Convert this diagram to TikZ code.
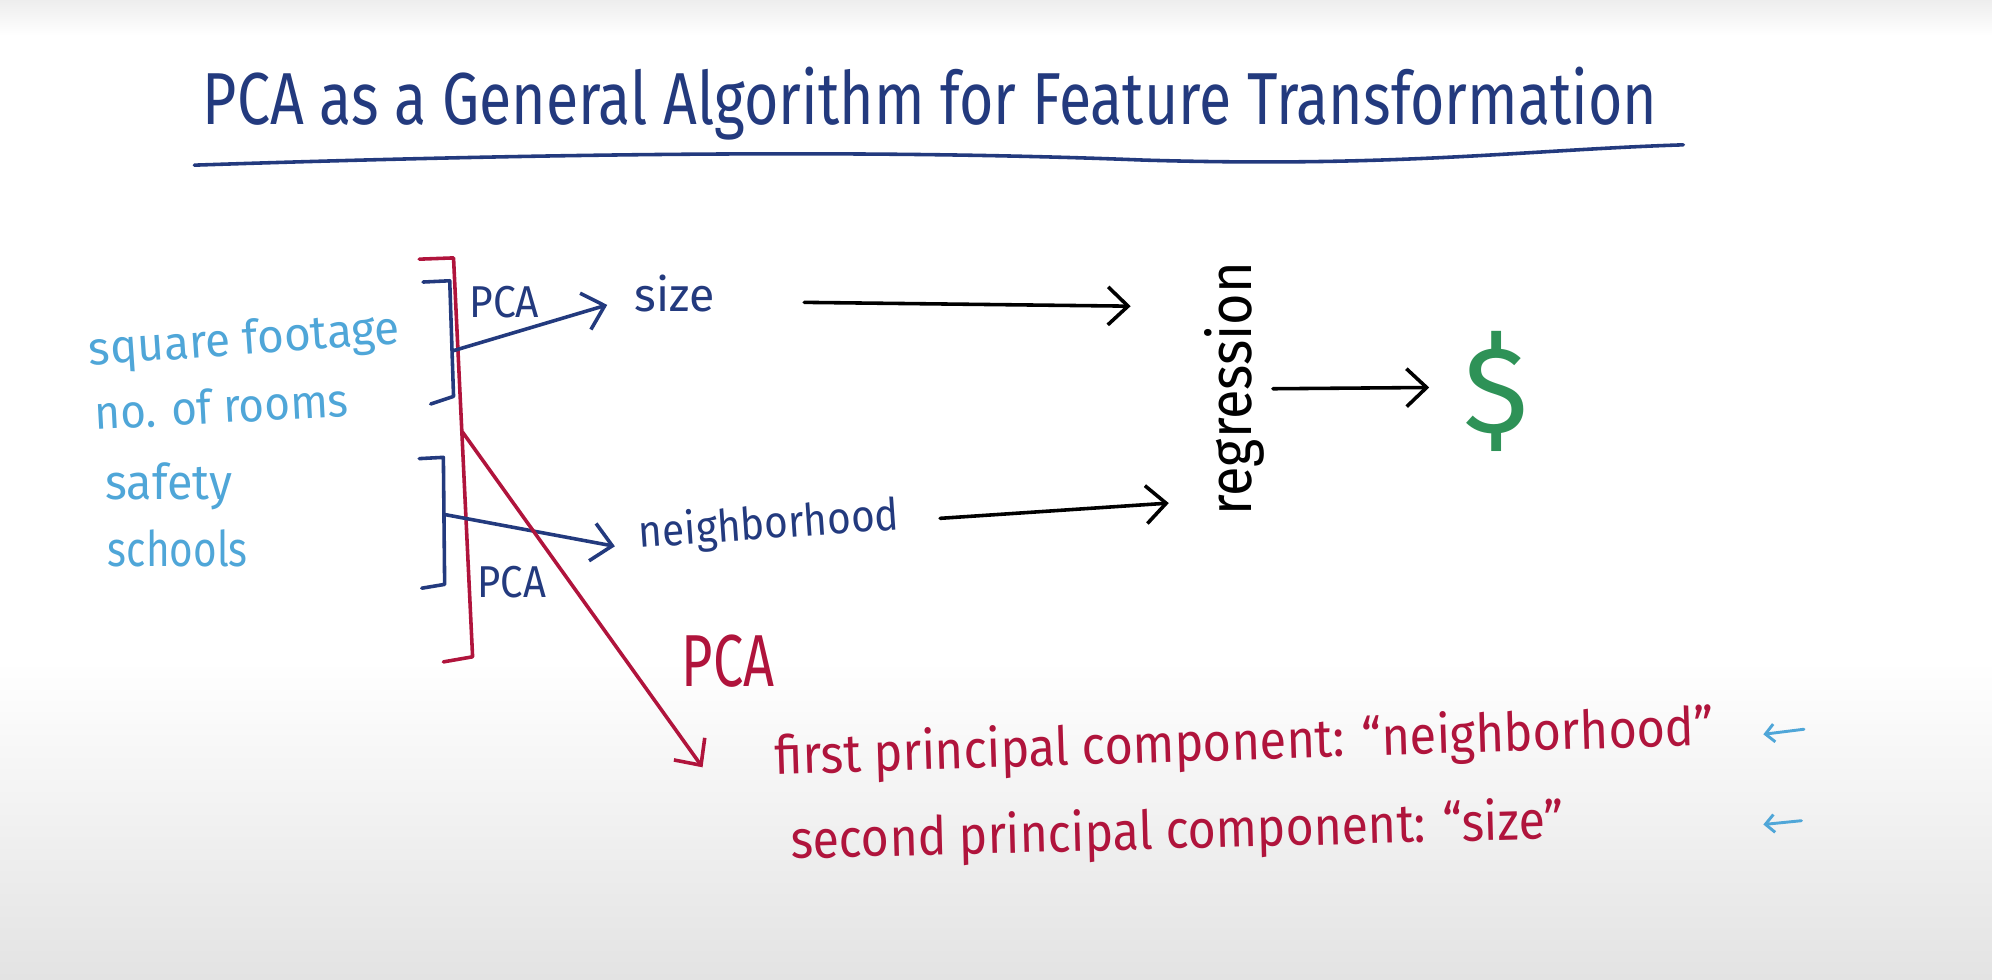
\documentclass[tikz,border=0pt]{standalone}
\usepackage{fontspec}
\setmainfont{Fira Sans}
\usepackage{graphicx}
\usetikzlibrary{arrows.meta}
\definecolor{navy}{HTML}{233A7E}
\definecolor{sky}{HTML}{4FA6D8}
\definecolor{crim}{HTML}{B0143C}
\definecolor{money}{HTML}{2E9257}
\newcommand\hwtext[2]{\resizebox{#1}{\height}{#2}}
\begin{document}
\begin{tikzpicture}[x=0.02cm,y=-0.02cm,
  txt/.style={inner sep=0pt, anchor=base},
  pen/.style={line width=1.6pt, line cap=round, line join=round},
  arr/.style={pen, -{Straight Barb[length=9pt,width=17pt,line width=1.6pt]}},
  small arr/.style={line width=1.3pt, line cap=round, -{Straight Barb[length=4pt,width=8pt,line width=1.3pt]}},
]
\useasboundingbox (0,0) rectangle (1568,771);
\fill[white] (0,0) rectangle (1568,771);
\shade[top color=white, bottom color=black!11] (0,520) rectangle (1568,771);
\shade[top color=black!7, bottom color=white] (0,0) rectangle (1568,28);

% title
\node[txt, text=navy] (title) at (732,98) {\hwtext{22.9cm}{\fontsize{33}{36}\selectfont PCA as a General Algorithm for Feature Transformation}};
\draw[pen, navy] (153,130) .. controls (450,120) and (700,118) .. (900,126) .. controls (1100,132) and (1200,118) .. (1325,114);

% input features
\node[txt, text=sky, rotate=4] (sq) at (193,279) {\hwtext{4.9cm}{\fontsize{21}{23}\selectfont square footage}};
\node[txt, text=sky, rotate=3] (rooms) at (175,333) {\hwtext{4.0cm}{\fontsize{21}{23}\selectfont no. of rooms}};
\node[txt, text=sky] (safety) at (133,393) {\hwtext{2.0cm}{\fontsize{22}{24}\selectfont safety}};
\node[txt, text=sky] (schools) at (140,446) {\hwtext{2.2cm}{\fontsize{22}{24}\selectfont schools}};

% brackets
\draw[pen, crim] (330,204) -- (357,203) -- (372,517) -- (349,521);
\coordinate (redsrc) at (364,340);
\draw[pen, navy] (333,222) -- (354,221) -- (357,312) -- (339,318);
\coordinate (ubr) at (357,276);
\draw[pen, navy] (330,361) -- (349,360) -- (350,460) -- (332,463);
\coordinate (lbr) at (350,405);

% PCA labels
\node[txt, text=navy] (pca1) at (397,250) {\hwtext{1.1cm}{\fontsize{20}{22}\selectfont PCA}};
\node[txt, text=navy] (pca2) at (403,470) {\hwtext{1.08cm}{\fontsize{20}{22}\selectfont PCA}};
\node[txt, text=crim] (pca3) at (573,540) {\hwtext{1.46cm}{\fontsize{33}{36}\selectfont PCA}};

% composite features
\node[txt, text=navy] (size) at (531,245) {\hwtext{1.26cm}{\fontsize{21}{23}\selectfont size}};
\node[txt, text=navy, rotate=4] (nbh) at (606,424) {\hwtext{4.1cm}{\fontsize{20}{22}\selectfont neighborhood}};

\draw[arr, navy] (ubr) -- (478,240);
\draw[arr, navy] (lbr) -- (484,430);

% regression
\node[txt, text=black, rotate=90] (reg) at (985,306) {\hwtext{4.0cm}{\fontsize{27}{29}\selectfont regression}};
\node[inner sep=0pt, text=money] (dollar) at (1178,308) {\fontsize{55}{60}\selectfont \$};

\coordinate (a1s) at (633,238);
\coordinate (a1e) at (890,241);
\coordinate (a2s) at (740,408);
\coordinate (a2e) at (920,396);
\coordinate (a3s) at (1002,306);
\coordinate (a3e) at (1125,305);
\draw[arr, black] (a1s) -- (a1e);
\draw[arr, black] (a2s) -- (a2e);
\draw[arr, black] (a3s) -- (a3e);

% principal components
\node[txt, text=crim, rotate=1.8] (pc1) at (980,598) {\hwtext{14.8cm}{\fontsize{24}{26}\selectfont first principal component: “neighborhood”}};
\node[txt, text=crim, rotate=1.5] (pc2) at (927,668) {\hwtext{12.18cm}{\fontsize{24}{26}\selectfont second principal component: “size”}};
\coordinate (redtip) at (553,604);
\draw[arr, crim] (redsrc) -- (redtip);

% marker arrows
\coordinate (m1s) at (1420,574);
\coordinate (m1e) at (1388,578);
\coordinate (m2s) at (1418,646);
\coordinate (m2e) at (1388,649);
\draw[small arr, sky] (m1s) -- (m1e);
\draw[small arr, sky] (m2s) -- (m2e);
\end{tikzpicture}
\end{document}
